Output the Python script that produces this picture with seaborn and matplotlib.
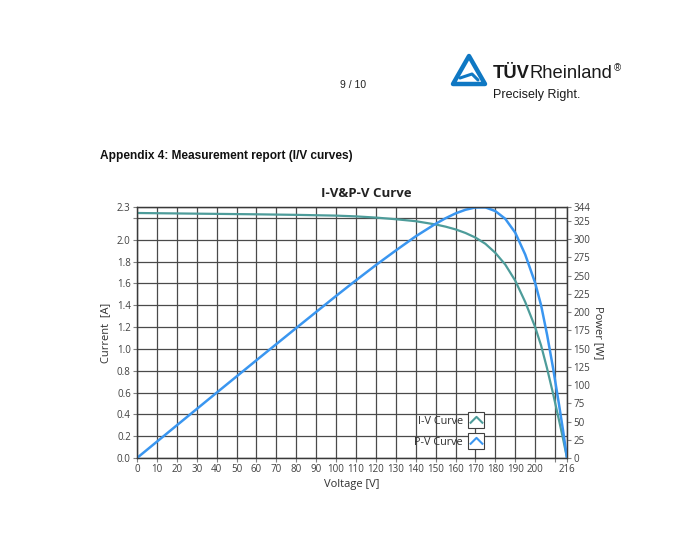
import matplotlib
matplotlib.use("Agg")
import matplotlib.pyplot as plt
import seaborn as sns
import pandas as pd
from matplotlib.path import Path
from matplotlib.lines import Line2D
from matplotlib.legend_handler import HandlerTuple
from matplotlib.patches import Polygon

# ---- data ----
voltage = [0, 20, 40, 60, 80, 100, 110, 120, 130, 140, 150, 155, 160, 165,
           170, 175, 180, 185, 190, 195, 200, 203, 206, 209, 212, 214, 216]
current = [2.245, 2.241, 2.237, 2.233, 2.228, 2.221, 2.214, 2.203, 2.188,
           2.170, 2.140, 2.120, 2.095, 2.062, 2.020, 1.963, 1.880, 1.772,
           1.625, 1.430, 1.200, 1.030, 0.820, 0.590, 0.345, 0.178, 0.0]
power = [0, 44.8, 89.5, 134.0, 178.2, 222.1, 243.5, 264.4, 284.4, 303.8,
         321.0, 328.6, 335.2, 340.2, 343.4, 343.5, 338.4, 327.8, 308.8,
         278.9, 240.0, 209.1, 168.9, 123.3, 73.1, 38.1, 0]
x_ticks = [0, 10, 20, 30, 40, 50, 60, 70, 80, 90, 100, 110, 120, 130, 140,
           150, 160, 170, 180, 190, 200, 210, 216]
x_labels = [str(v) for v in x_ticks]
x_labels[x_ticks.index(210)] = ""
i_ticks = [0.0, 0.2, 0.4, 0.6, 0.8, 1.0, 1.2, 1.4, 1.6, 1.8, 2.0, 2.2, 2.3]
i_labels = ["0.0", "0.2", "0.4", "0.6", "0.8", "1.0", "1.2", "1.4", "1.6",
            "1.8", "2.0", "", "2.3"]
p_ticks = [0, 25, 50, 75, 100, 125, 150, 175, 200, 225, 250, 275, 300, 325, 344]

df = pd.DataFrame({"Voltage": voltage, "Current": current, "Power": power})

IV_COLOR = "#4d9c9a"
PV_COLOR = "#3a96f0"
GRID = "#4a4a4a"
TICKTXT = "#404040"

sns.set_theme(style="white")
plt.rcParams["font.family"] = ["Open Sans", "DejaVu Sans"]

fig = plt.figure(figsize=(7, 5.5), dpi=100)
fig.patch.set_facecolor("white")

W, H = 700, 550
def fx(x):
    return x / W
def fy(y):
    return 1 - y / H

ax = fig.add_axes([fx(137), fy(458), fx(567) - fx(137), fy(207) - fy(458)])
ax2 = ax.twinx()

sns.lineplot(data=df, x="Voltage", y="Current", ax=ax, color=IV_COLOR,
             linewidth=1.6, estimator=None, sort=False)
sns.lineplot(data=df, x="Voltage", y="Power", ax=ax2, color=PV_COLOR,
             linewidth=1.8, estimator=None, sort=False)

ax.set_xlim(0, 216)
ax.set_ylim(0, 2.3)
ax2.set_ylim(0, 344)

ax.set_xticks(x_ticks)
ax.set_xticklabels(x_labels)
ax.set_yticks(i_ticks)
ax.set_yticklabels(i_labels)
ax2.set_yticks(p_ticks)
ax2.set_yticklabels([str(v) for v in p_ticks])

ax.grid(True, color=GRID, linewidth=0.9)
ax2.grid(False)
ax.set_axisbelow(True)

for a in (ax, ax2):
    for s in a.spines.values():
        s.set_color("#3a3a3a")
        s.set_linewidth(0.9)
ax.tick_params(axis="both", which="major", length=3, width=0.8, color="#808080",
               labelsize=7, labelcolor=TICKTXT, pad=1.5, direction="out",
               left=True, bottom=True)
ax2.tick_params(axis="y", length=3, width=0.8, color="#808080", labelsize=7,
                labelcolor=TICKTXT, pad=1.5, right=True)

ax.set_xlabel("Voltage [V]", fontsize=8, color="#303030", labelpad=3)
ax.set_ylabel("Current  [A]", fontsize=8, color="#303030", labelpad=4)
ax2.set_ylabel("Power [W]", fontsize=8, color="#303030", rotation=270,
               labelpad=10)
ax.set_title("I-V&P-V Curve", fontsize=9.5, fontweight="bold",
             color="#222222", pad=7, x=(366.5 - 137) / 430)

# legend with boxed chevron icons
chev = Path([(-1, -0.45), (0, 0.55), (1, -0.45)],
            [Path.MOVETO, Path.LINETO, Path.LINETO])
def icon(color):
    box = Line2D([], [], linestyle="none", marker="s", markersize=12.2,
                 markerfacecolor="white", markeredgecolor="#404040",
                 markeredgewidth=0.8)
    ch = Line2D([], [], linestyle="none", marker=chev, markersize=9.5,
                markerfacecolor="none", markeredgecolor=color,
                markeredgewidth=1.5)
    return (box, ch)

leg = ax.legend([icon(IV_COLOR), icon(PV_COLOR)], ["I-V Curve", "P-V Curve"],
                handler_map={tuple: HandlerTuple(ndivide=1, pad=0)},
                loc="upper left",
                bbox_to_anchor=((414 - 137) / 430, 1 - (416 - 207) / 251),
                frameon=False, markerfirst=False, fontsize=7.8,
                handlelength=1.3, handletextpad=0.6, labelspacing=0.9,
                borderaxespad=0, borderpad=0)
for t in leg.get_texts():
    t.set_color("#303030")

# page header
fig.text(fx(353), fy(85), "9 / 10", ha="center", va="center", fontsize=7.5,
         family="Liberation Sans", color="#222222")
logo_blue = "#0f78c3"
tri = Polygon([[fx(453), fy(84)], [fx(469), fy(56)], [fx(485), fy(84)]],
              closed=True, fill=False, edgecolor=logo_blue, linewidth=3.2,
              joinstyle="round", transform=fig.transFigure)
fig.patches.append(tri)
fig.lines.append(Line2D([fx(460), fx(472), fx(478)], [fy(78), fy(74), fy(80)],
                        color=logo_blue, linewidth=2.2,
                        transform=fig.transFigure))

renderer = fig.canvas.get_renderer()
t1 = fig.text(fx(493), fy(74), "TÜV", ha="left", va="center", fontsize=13.2,
              fontweight="bold", family="Liberation Sans", color="#1a1a1a")
bb1 = t1.get_window_extent(renderer)
t2 = fig.text(bb1.x1 / W, fy(74), "Rheinland", ha="left", va="center",
              fontsize=13.2, family="Liberation Sans", color="#1a1a1a")
bb2 = t2.get_window_extent(renderer)
fig.text(bb2.x1 / W + 0.002, fy(68), "®", ha="left", va="center", fontsize=7,
         family="Liberation Sans", color="#1a1a1a")
fig.text(fx(493), fy(95), "Precisely Right.", ha="left", va="center",
         fontsize=9, family="Liberation Sans", color="#1a1a1a")
fig.text(fx(100), fy(156), "Appendix 4: Measurement report (I/V curves)",
         ha="left", va="center", fontsize=8.6, fontweight="bold",
         family="Liberation Sans", color="#111111")

fig.savefig("out.png", dpi=100, facecolor="white")
